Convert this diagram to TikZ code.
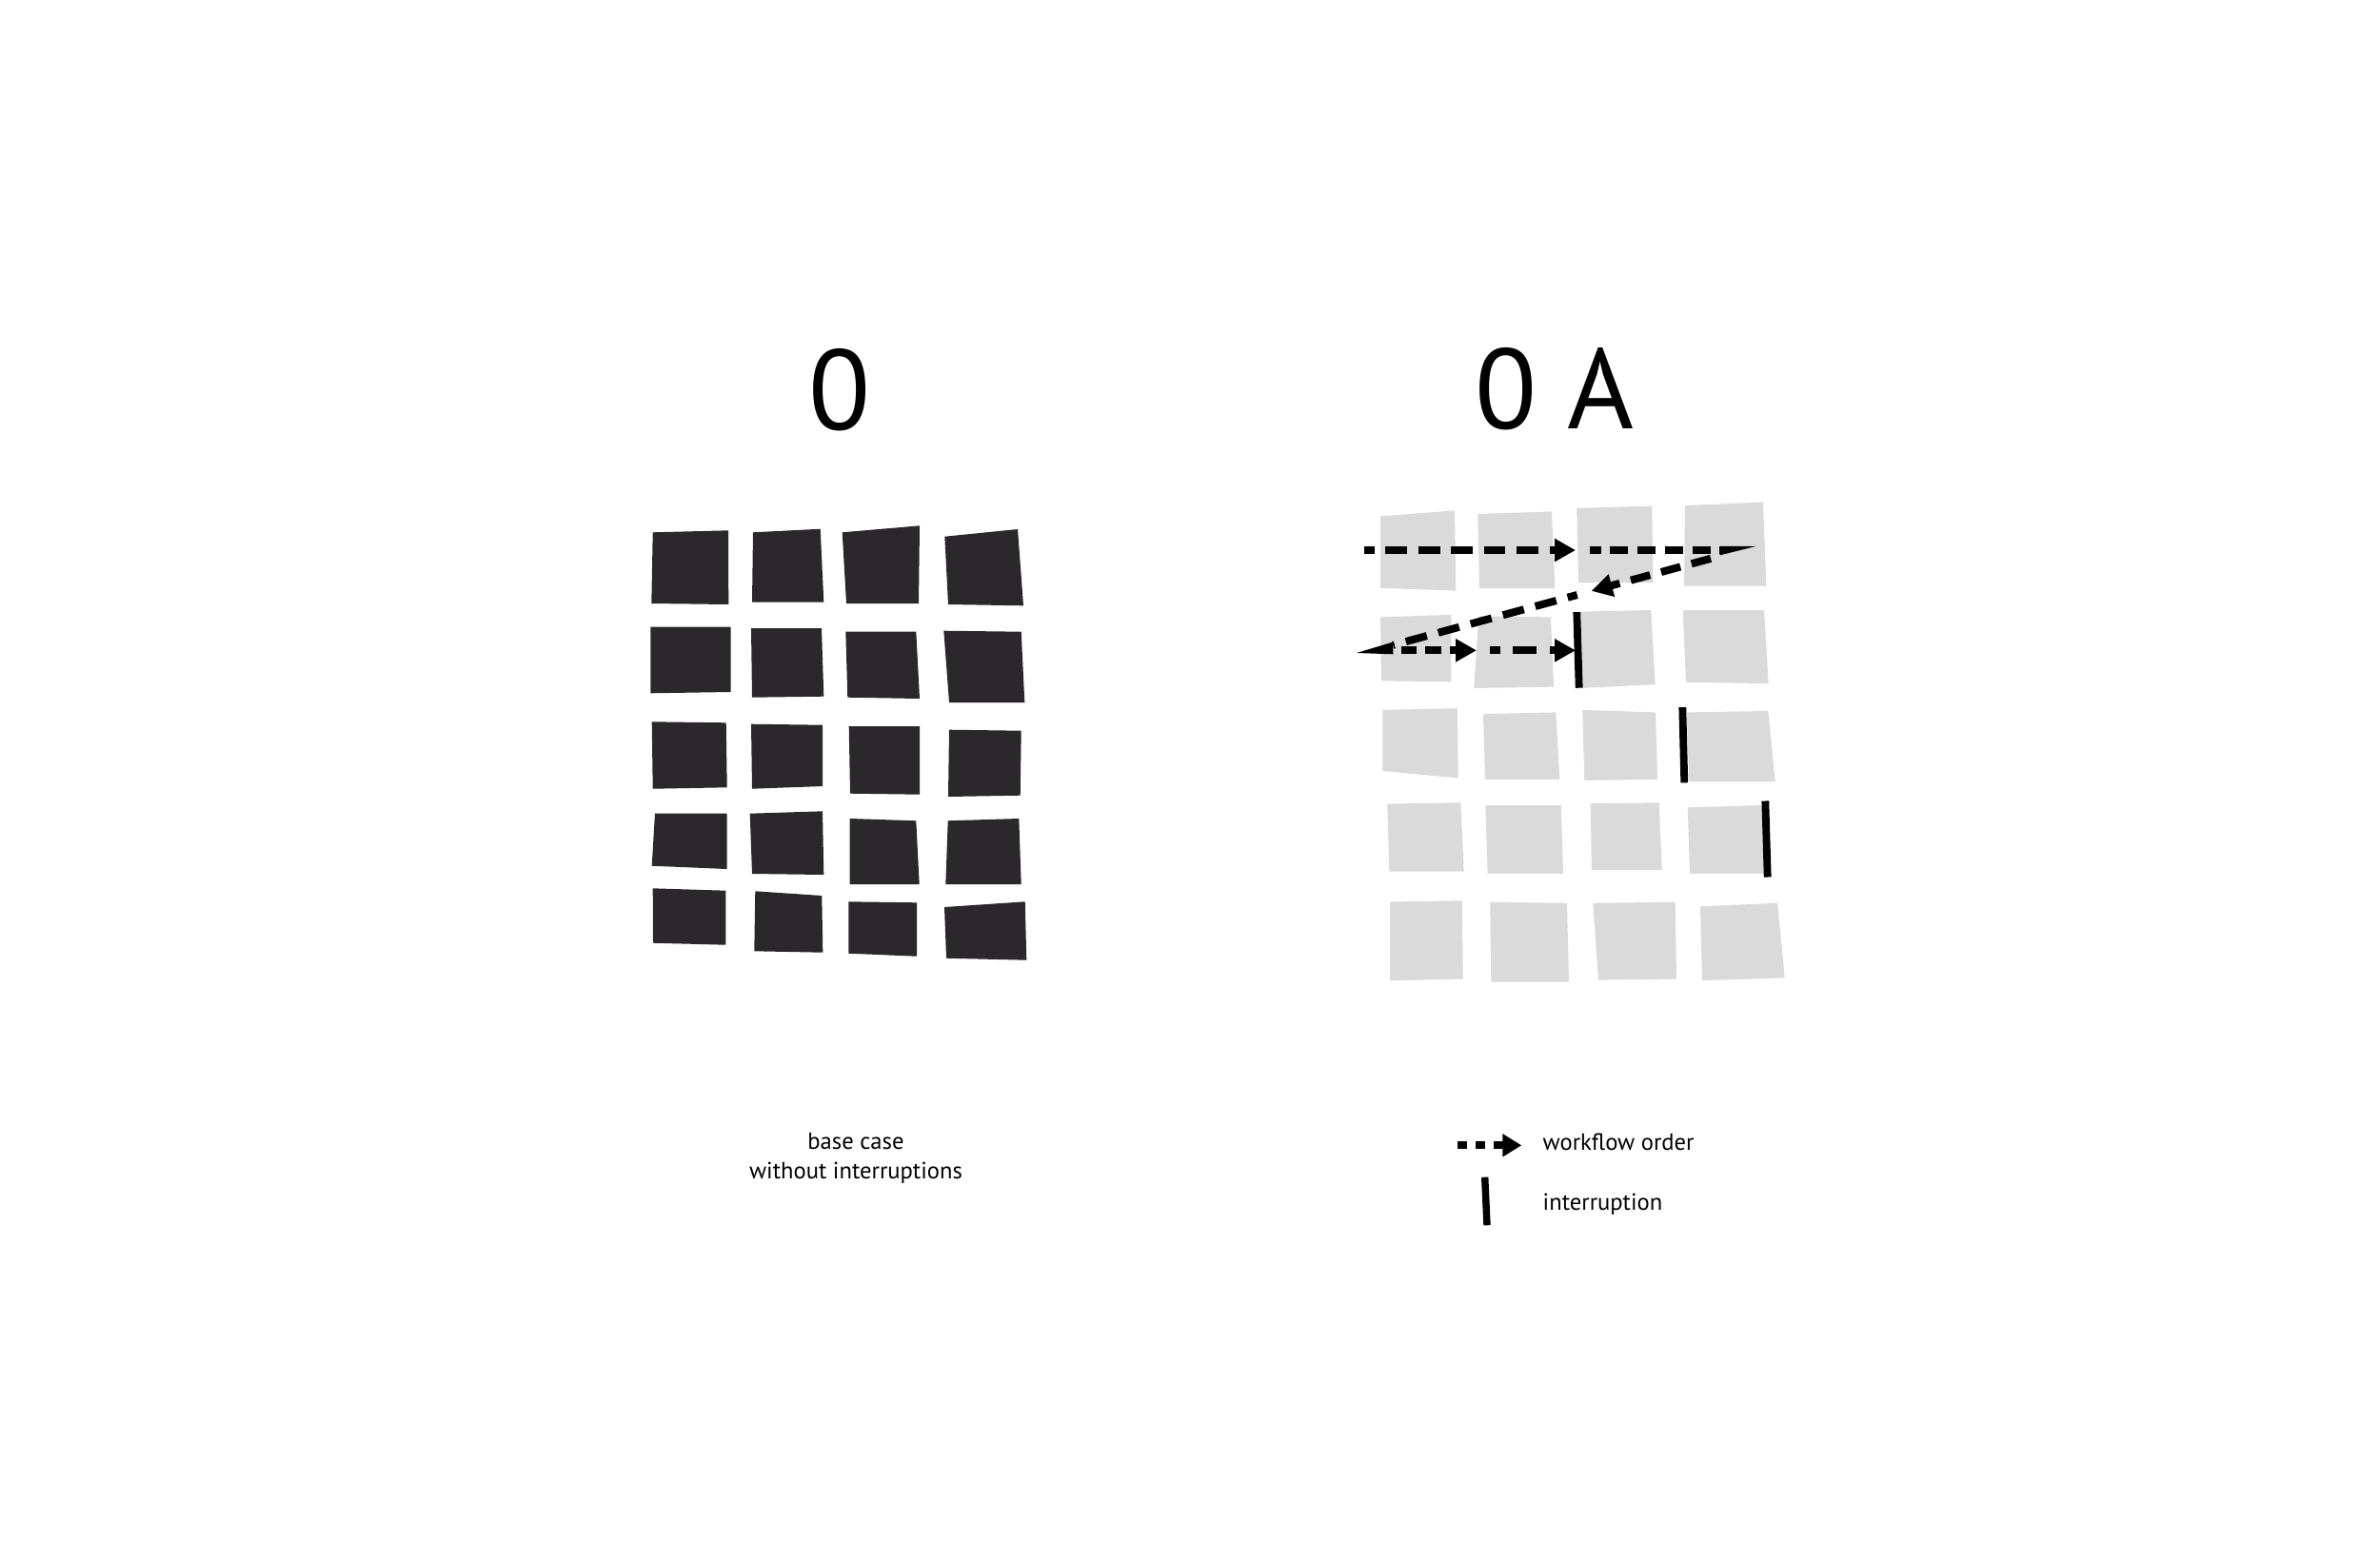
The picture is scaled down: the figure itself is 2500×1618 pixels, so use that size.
\documentclass[tikz,border=0pt]{standalone}
\usepackage{fontspec}
\setmainfont{PT Sans}
\usetikzlibrary{arrows.meta}
\definecolor{darkq}{RGB}{42,40,42}
\definecolor{lightq}{RGB}{218,218,218}
\begin{document}
\begin{tikzpicture}[x=0.01cm,y=-0.01cm,
  darksq/.style={fill=darkq},
  lightsq/.style={fill=lightq},
  flowline/.style={line width=0.08cm, draw=black},
  flowtip/.style={-{Triangle[length=0.22cm,width=0.23cm]}},
  barline/.style={line width=0.078cm, draw=black},
  wedgefill/.style={fill=black},
  heading/.style={font=\fontsize{34}{40}\selectfont, inner sep=0pt, anchor=base},
  smalltext/.style={font=\fontsize{7}{8.8}\selectfont, inner sep=0pt}]
\useasboundingbox[fill=white] (0,0) rectangle (2500,1618);

% headings
\node[heading] (h0) at (882.5,451.7) {0};
\node[heading] (h0a) at (1633,450.5) {0 A};

% left grid (dark)
\fill[darksq] (685.7,559.3)--(765,557.3)--(765.3,635)--(684.3,634)--cycle;
\fill[darksq] (791,559.3)--(861.7,555.7)--(865.3,632.7)--(790,632.7)--cycle;
\fill[darksq] (884.7,559.3)--(966,552.3)--(965,634)--(889,634)--cycle;
\fill[darksq] (992.3,563.7)--(1069,556)--(1075,636.3)--(996,635)--cycle;
\fill[darksq] (683.3,658.7)--(767.7,658.7)--(767.7,727)--(683.3,728.3)--cycle;
\fill[darksq] (789,660)--(863,660)--(865.3,731.7)--(790,732.7)--cycle;
\fill[darksq] (888.3,663.7)--(962.3,663.7)--(966,734)--(890.3,732.7)--cycle;
\fill[darksq] (991.3,662.7)--(1072.7,663.7)--(1076.3,738)--(997,738)--cycle;
\fill[darksq] (684.7,758.3)--(762.7,759.3)--(763.7,827.3)--(685.7,828.7)--cycle;
\fill[darksq] (789,760.7)--(864,761.7)--(864,826)--(790,828.7)--cycle;
\fill[darksq] (891.7,763)--(966,763)--(966,834.7)--(893,833.7)--cycle;
\fill[darksq] (997,766.7)--(1072.7,767.7)--(1071.7,835.7)--(996,837)--cycle;
\fill[darksq] (688,854.7)--(763.7,854.7)--(763.7,913)--(684.7,909.7)--cycle;
\fill[darksq] (787.7,854.7)--(864,852.3)--(865.3,919)--(790,918)--cycle;
\fill[darksq] (892.7,860)--(962.3,862.3)--(965.7,929)--(892.7,929)--cycle;
\fill[darksq] (995.7,862.3)--(1070.3,860)--(1072.7,929)--(993.3,929)--cycle;
\fill[darksq] (685.7,933.3)--(762.3,935.7)--(762.3,992.7)--(686,990.7)--cycle;
\fill[darksq] (793.3,936.3)--(863.3,941)--(864.3,1000.7)--(792.3,999.3)--cycle;
\fill[darksq] (891.3,947.3)--(963,948.3)--(963,1004.7)--(891.3,1001.7)--cycle;
\fill[darksq] (992,953)--(1076.7,947.3)--(1078.3,1008.7)--(994,1006.7)--cycle;

% right grid (light)
\fill[lightsq] (1450,542.4)--(1528,536.4)--(1529.3,620.6)--(1450,617.7)--cycle;
\fill[lightsq] (1552.3,539.9)--(1630,537.5)--(1633.3,618.1)--(1554,618.1)--cycle;
\fill[lightsq] (1656.3,533.9)--(1735.3,531.5)--(1736.3,612.1)--(1658,612.1)--cycle;
\fill[lightsq] (1770,531.1)--(1852,527.6)--(1855.3,615.6)--(1769,615.6)--cycle;
\fill[lightsq] (1450,648.4)--(1524.3,645.9)--(1524.3,716.3)--(1451,715.3)--cycle;
\fill[lightsq] (1553.3,647.3)--(1629,648.4)--(1632,721.6)--(1548.3,723.0)--cycle;
\fill[lightsq] (1660.7,642.7)--(1734.3,641.0)--(1738.7,719.2)--(1662.7,722.7)--cycle;
\fill[lightsq] (1767.7,641.0)--(1853,641.0)--(1857.7,718.1)--(1771,716.7)--cycle;
\fill[lightsq] (1452.3,745.9)--(1530.7,744.2)--(1531.7,817.4)--(1452.3,810.0)--cycle;
\fill[lightsq] (1558,750.1)--(1634.3,748.4)--(1638.3,818.8)--(1560,818.8)--cycle;
\fill[lightsq] (1662.3,745.9)--(1739,748.4)--(1741,818.8)--(1664.3,819.9)--cycle;
\fill[lightsq] (1771.7,748.4)--(1857.3,747.0)--(1864.7,821.3)--(1774.3,821.3)--cycle;
\fill[lightsq] (1457.3,844.6)--(1534.3,843.2)--(1537.7,915.5)--(1459.3,915.5)--cycle;
\fill[lightsq] (1560.3,846.0)--(1639.7,846.0)--(1642,917.8)--(1562.7,917.8)--cycle;
\fill[lightsq] (1670.7,844.2)--(1742.7,843.3)--(1745.7,914.2)--(1672,914.2)--cycle;
\fill[lightsq] (1772.7,848.4)--(1851.7,846.0)--(1853.3,917.8)--(1775,917.8)--cycle;
\fill[lightsq] (1460,947.5)--(1535.7,946.3)--(1536.7,1028.5)--(1460,1030.3)--cycle;
\fill[lightsq] (1565.3,947.7)--(1646,948.8)--(1648,1031.5)--(1566.3,1031.5)--cycle;
\fill[lightsq] (1673.3,948.8)--(1759.7,947.7)--(1761,1028.5)--(1679,1029.6)--cycle;
\fill[lightsq] (1786,952.3)--(1867,948.8)--(1874.7,1027.3)--(1788,1030.1)--cycle;

% workflow path
\coordinate (ta) at (1433,578);
\coordinate (tb) at (1655,578);
\coordinate (tc) at (1670,578);
\coordinate (td) at (1806.7,578);
\coordinate (da) at (1797,586.8);
\coordinate (dm) at (1671.7,620.9);
\coordinate (db) at (1656.7,625);
\coordinate (dc) at (1463.3,677.7);
\coordinate (ra) at (1471.7,683.3);
\coordinate (rb) at (1551,683.3);
\coordinate (rc) at (1565,683.3);
\coordinate (rd) at (1655,683.3);

\draw[flowline, flowtip, dash pattern=on 0.227cm off 0.117cm, dash phase=0.12cm] (ta) -- (tb);
\draw[flowline, dash pattern=on 0.19cm off 0.097cm, dash phase=0.073cm] (tc) -- (td);
\fill[wedgefill] (1806.7,573.8) -- (1845,573.8) -- (1806.7,583.3) -- cycle;
\draw[flowline, flowtip, dash pattern=on 0.21cm off 0.12cm] (da) -- (dm);
\draw[flowline, dash pattern=on 0.228cm off 0.124cm, dash phase=0.124cm] (db) -- (dc);
\fill[wedgefill] (1425,686) -- (1463.3,674.5) -- (1463.3,687.3) -- cycle;
\draw[flowline, flowtip, dash pattern=on 0.166cm off 0.09cm] (ra) -- (rb);
\draw[flowline, flowtip, dash pattern=on 0.25cm off 0.135cm, dash phase=0.143cm] (rc) -- (rd);

% interruptions
\coordinate (ia1) at (1656.3,643.1);
\coordinate (ib1) at (1658.7,722.7);
\coordinate (ia2) at (1767.3,743.1);
\coordinate (ib2) at (1769.3,822.3);
\coordinate (ia3) at (1854.3,841.5);
\coordinate (ib3) at (1856.7,921.5);
\draw[barline] (ia1) -- (ib1);
\draw[barline] (ia2) -- (ib2);
\draw[barline] (ia3) -- (ib3);

% caption (anchor base = baseline of last line)
\node[smalltext, anchor=base, align=center] (cap) at (899,1238.5) {base case\\without interruptions};

% legend
\coordinate (la) at (1531,1203.3);
\coordinate (lb) at (1598.3,1203.3);
\draw[line width=0.08cm, dash pattern=on 0.1cm off 0.09cm, -{Triangle[length=0.2cm,width=0.23cm]}] (la) -- (lb);
\node[smalltext, anchor=base west] (lw) at (1620,1208.3) {workflow order};
\coordinate (lc) at (1559.7,1236.7);
\coordinate (ld) at (1562,1287.3);
\draw[line width=0.074cm] (lc) -- (ld);
\node[smalltext, anchor=base west] (li) at (1620,1271.5) {interruption};
\end{tikzpicture}
\end{document}
